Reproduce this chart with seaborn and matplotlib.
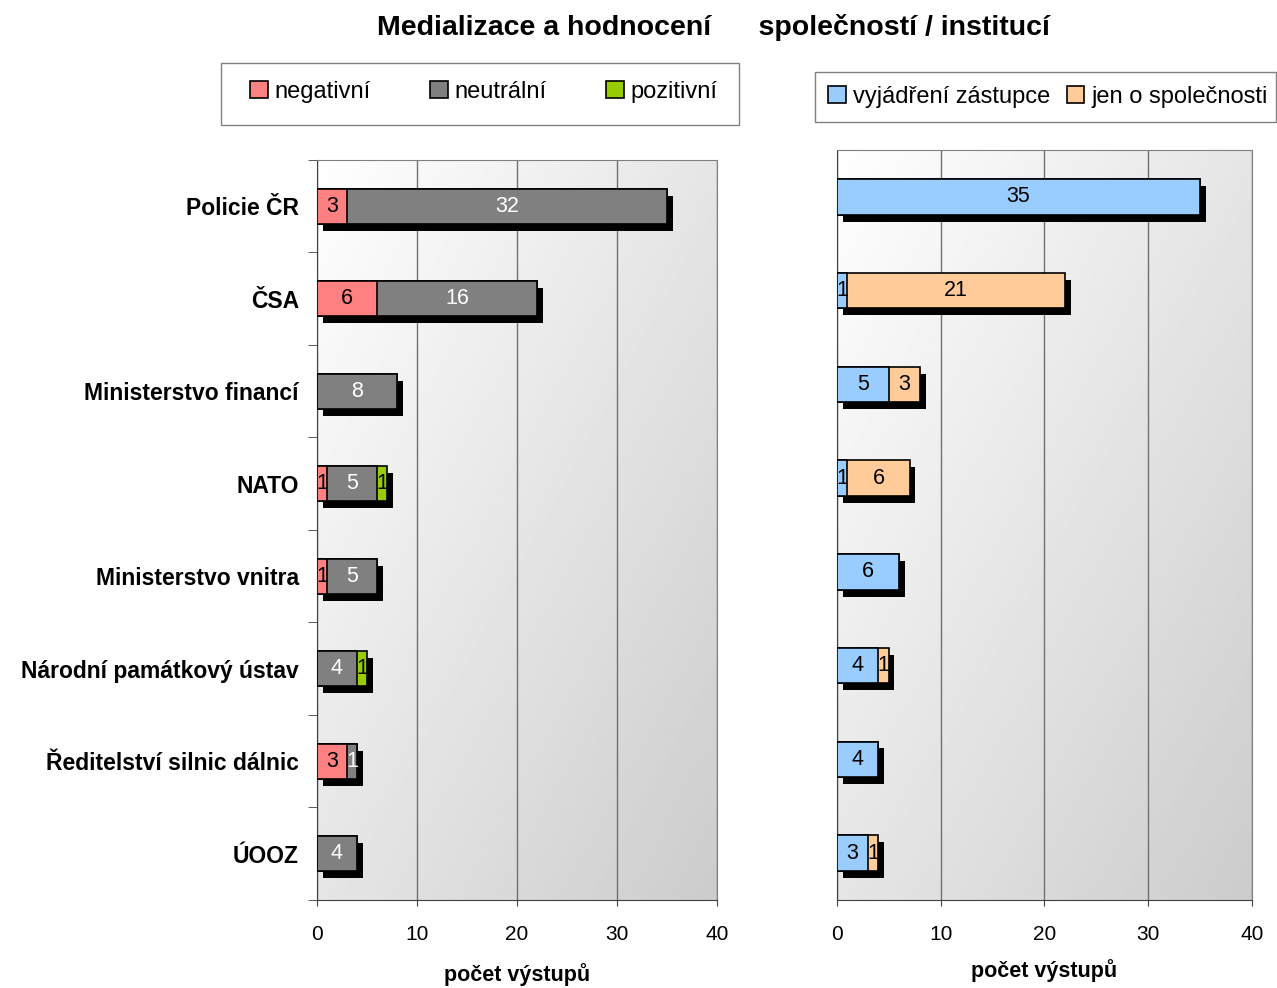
import numpy as np
import pandas as pd
import matplotlib
matplotlib.use("Agg")
import matplotlib.pyplot as plt
import matplotlib.patheffects as pe
from matplotlib.patches import Patch, Rectangle
import seaborn as sns

# Data
institutions = [
    "Policie ČR",
    "ČSA",
    "Ministerstvo financí",
    "NATO",
    "Ministerstvo vnitra",
    "Národní památkový ústav",
    "Ředitelství silnic dálnic",
    "ÚOOZ",
]
negative = [3, 6, 0, 1, 1, 0, 3, 0]
neutral = [32, 16, 8, 5, 5, 4, 1, 4]
positive = [0, 0, 0, 1, 0, 1, 0, 0]

representative = [35, 1, 5, 1, 6, 4, 4, 3]
company_only = [0, 21, 3, 6, 0, 1, 0, 1]

tone_labels = ["negativní", "neutrální", "pozitivní"]
tone_colors = ["#FF8080", "#808080", "#99CC00"]
tone_text = ["black", "white", "black"]
voice_labels = ["vyjádření zástupce", "jen o společnosti"]
voice_colors = ["#99CCFF", "#FFCC99"]
voice_text = ["black", "black"]

x_ticks = [0, 10, 20, 30, 40]

plt.rcParams["font.family"] = ["Liberation Sans", "DejaVu Sans"]

BAR_H = 0.38


def add_gradient(ax):
    n = 200
    xx, yy = np.meshgrid(np.linspace(0, 1, n), np.linspace(0, 1, n))
    t = (xx + yy) / 2.0  # 0 at top-left, 1 at bottom-right (origin upper)
    ax.imshow(1 - 0.2 * t, extent=[0, 1, 0, 1], transform=ax.transAxes,
              cmap="gray", vmin=0, vmax=1, aspect="auto", origin="upper",
              zorder=0.1, interpolation="bilinear")


def stacked_panel(ax, series, colors, text_colors, xlabel_pad):
    df = pd.DataFrame({"cat": institutions})
    cums = np.cumsum(np.array(series), axis=0)
    # draw from the total downwards so that every segment overlaps the next
    for k in range(len(series) - 1, -1, -1):
        df["val"] = cums[k]
        n_before = len(ax.patches)
        sns.barplot(data=df, x="val", y="cat", orient="h", color=colors[k],
                    saturation=1, width=BAR_H, edgecolor="black", linewidth=1.2,
                    ax=ax, zorder=3)
        if k == len(series) - 1:
            for p in ax.patches[n_before:]:
                p.set_path_effects([
                    pe.SimplePatchShadow(offset=(4, -5), shadow_rgbFace="black", alpha=1),
                    pe.Normal(),
                ])
    # labels
    for k in range(len(series)):
        start = cums[k] - np.array(series[k])
        for i, v in enumerate(series[k]):
            if v > 0:
                ax.text(start[i] + v / 2, i, str(v), ha="center", va="center",
                        fontsize=15.5, color=text_colors[k], zorder=5)
    add_gradient(ax)
    ax.set_xlim(0, 40)
    ax.set_ylim(len(institutions) - 0.5, -0.5)
    ax.set_xticks(x_ticks)
    ax.set_xticklabels([str(t) for t in x_ticks], fontsize=15)
    ax.tick_params(axis="x", length=4, color="#404040", pad=14)
    ax.grid(axis="x", color="#707070", linewidth=1)
    ax.set_axisbelow(True)
    ax.set_xlabel("počet výstupů", fontsize=15.5, fontweight="bold", labelpad=xlabel_pad)
    ax.set_ylabel("")
    for s in ["top", "right"]:
        ax.spines[s].set_color("#808080")
    for s in ["left", "bottom"]:
        ax.spines[s].set_color("#404040")


fig = plt.figure(figsize=(12.77, 9.88), dpi=100)
ax1 = fig.add_axes([0.2482, 0.0891, 0.3133, 0.749])
ax2 = fig.add_axes([0.6554, 0.0891, 0.3250, 0.759])

stacked_panel(ax1, [negative, neutral, positive], tone_colors, tone_text, 14)
stacked_panel(ax2, [representative, company_only], voice_colors, voice_text, 11)

# left panel: bold category labels, ticks at category boundaries
ax1.set_yticks(range(len(institutions)))
ax1.set_yticklabels(institutions, fontsize=16.5, fontweight="bold")
ax1.tick_params(axis="y", which="major", length=0, pad=13)
ax1.set_yticks(np.arange(-0.5, len(institutions), 1), minor=True)
ax1.tick_params(axis="y", which="minor", length=6.5, color="#404040", direction="out")

ax2.set_yticks([])

fig.text(0.559, 0.972, "Medializace a hodnocení      společností / institucí",
         ha="center", va="center", fontsize=20.5, fontweight="bold")

# legend boxes
box1 = (221 / 1277, 1 - 125 / 988, 518 / 1277, 62 / 988)
box2 = (815 / 1277, 1 - 122 / 988, 461 / 1277, 50 / 988)
for b in [box1, box2]:
    fig.add_artist(Rectangle(b[:2], b[2], b[3], transform=fig.transFigure,
                             facecolor="white", edgecolor="#808080", linewidth=1))

h1 = [Patch(facecolor=c, edgecolor="black", linewidth=1.2) for c in tone_colors]
fig.legend(h1, tone_labels, loc="center", ncol=3,
           bbox_to_anchor=(box1[0] + box1[2] / 2 + 0.003, box1[1] + box1[3] / 2 + 0.002),
           fontsize=17, frameon=False, handlelength=0.75, handleheight=0.75,
           handletextpad=0.3, columnspacing=2.5, borderpad=0, borderaxespad=0)

h2 = [Patch(facecolor=c, edgecolor="black", linewidth=1.2) for c in voice_colors]
fig.legend(h2, voice_labels, loc="center", ncol=2,
           bbox_to_anchor=(box2[0] + box2[2] / 2 + 0.002, box2[1] + box2[3] / 2),
           fontsize=17, frameon=False, handlelength=0.75, handleheight=0.75,
           handletextpad=0.3, columnspacing=0.7, borderpad=0, borderaxespad=0)

fig.savefig("out.png", dpi=100)
